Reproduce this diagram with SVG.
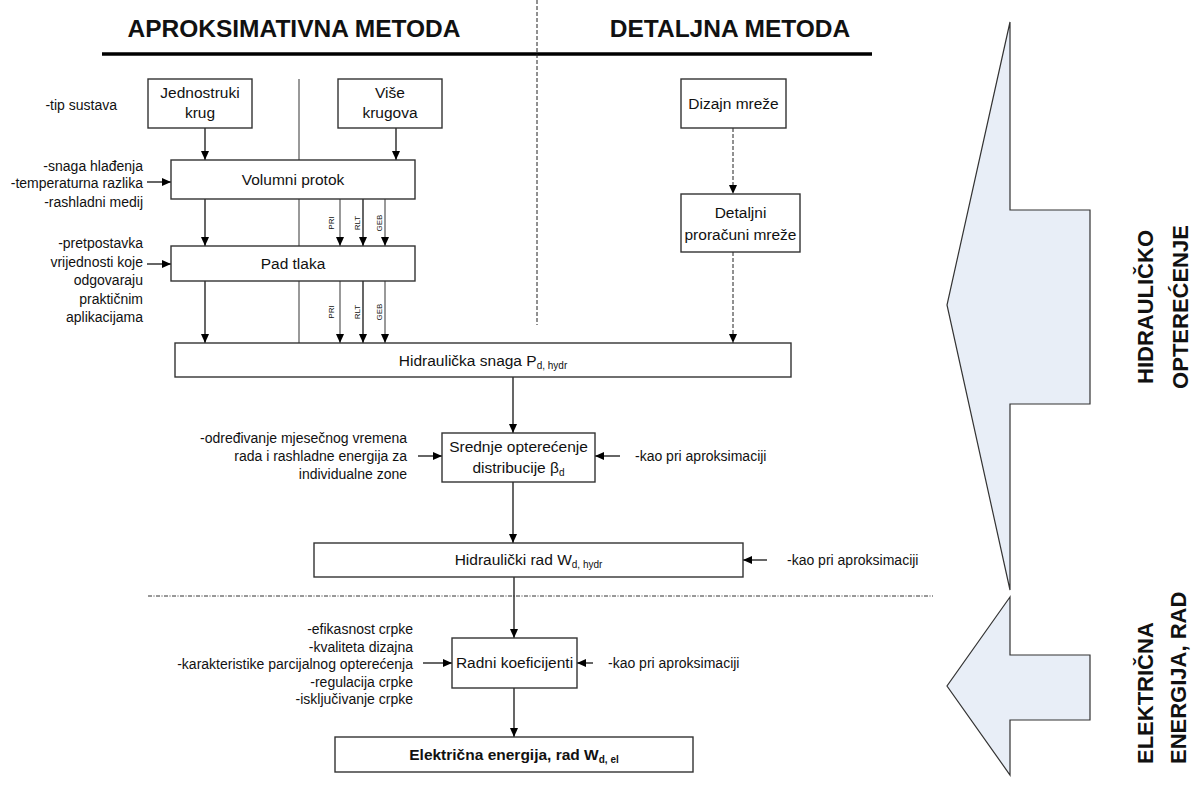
<svg xmlns="http://www.w3.org/2000/svg" width="1194" height="786" viewBox="0 0 1194 786">
  <defs>
    <marker id="ah" markerUnits="userSpaceOnUse" markerWidth="9" markerHeight="8" refX="9" refY="4" orient="auto">
      <path d="M0,0 L9,4 L0,8 z" fill="#000"/>
    </marker>
  </defs>
  <style>
    text { font-family: "Liberation Sans", Arial, sans-serif; fill: #111; }
    .title { font-size: 24.5px; font-weight: bold; text-anchor: middle; }
    .side { font-size: 22px; font-weight: bold; }
    .lbl { font-size: 15.5px; text-anchor: middle; }
    .note { font-size: 14px; text-anchor: end; }
    .noteL { font-size: 14px; text-anchor: start; }
    .tiny { font-size: 8px; text-anchor: middle; }
    .sub { font-size: 10px; }
    .box { fill: #fff; stroke: #333; stroke-width: 1.4; }
    .con { fill: none; stroke: #000; stroke-width: 1.2; marker-end: url(#ah); }
    .cong { fill: none; stroke: #555; stroke-width: 1.2; marker-end: url(#ah); }
    .dash { fill: none; stroke: #222; stroke-width: 1; stroke-dasharray: 4 2; marker-end: url(#ah); }
    .sep { fill: none; stroke: #222; stroke-width: 1; stroke-dasharray: 4 2; }
    .sepdot { fill: none; stroke: #333; stroke-width: 1; stroke-dasharray: 4 1.5 1 1.5; }
    .big { fill: #e8eef7; stroke: #333; stroke-width: 1.2; }
  </style>

  <!-- column headers and separators -->
  <g id="headers">
    <text class="title" x="294" y="37">APROKSIMATIVNA METODA</text>
    <text class="title" x="730" y="37">DETALJNA METODA</text>
    <line x1="102" y1="54" x2="872" y2="54" stroke="#000" stroke-width="3.5"/>
    <line class="sep" x1="537" y1="0" x2="537" y2="325"/>
    <line x1="299" y1="79" x2="299" y2="343" stroke="#555" stroke-width="1.2"/>
    <line class="sepdot" x1="148" y1="596" x2="933" y2="596"/>
  </g>

  <!-- side phase arrows -->
  <g id="phase-hydraulic">
    <polygon class="big" points="1010,22 947,305 1010,590 1010,404 1090,404 1090,210 1010,210"/>
    <text class="side" text-anchor="middle" transform="translate(1153,307) rotate(-90)">HIDRAULIČKO</text>
    <text class="side" text-anchor="middle" transform="translate(1188,307) rotate(-90)">OPTEREĆENJE</text>
  </g>
  <g id="phase-electric">
    <polygon class="big" points="1010,597 947,686 1010,775 1010,720 1090,720 1090,655 1010,655"/>
    <text class="side" text-anchor="start" transform="translate(1153,764) rotate(-90)">ELEKTRIČNA</text>
    <text class="side" text-anchor="start" transform="translate(1186,764) rotate(-90)">ENERGIJA, RAD</text>
  </g>

  <!-- connectors -->
  <g id="connectors">
    <line class="con" x1="205" y1="128" x2="205" y2="160"/>
    <line class="con" x1="396" y1="128" x2="396" y2="160"/>
    <line class="con" x1="147" y1="182" x2="171" y2="182"/>
    <line class="con" x1="205" y1="199" x2="205" y2="246"/>
    <line class="cong" x1="340" y1="199" x2="340" y2="246"/>
    <line class="con" x1="363" y1="199" x2="363" y2="246"/>
    <line class="cong" x1="385" y1="199" x2="385" y2="246"/>
    <line class="con" x1="147" y1="264" x2="171" y2="264"/>
    <line class="con" x1="205" y1="281" x2="205" y2="343"/>
    <line class="cong" x1="340" y1="281" x2="340" y2="343"/>
    <line class="con" x1="363" y1="281" x2="363" y2="343"/>
    <line class="cong" x1="385" y1="281" x2="385" y2="343"/>
    <line class="dash" x1="733" y1="128" x2="733" y2="194"/>
    <line class="dash" x1="733" y1="252" x2="733" y2="343"/>
    <line class="con" x1="513" y1="377" x2="513" y2="433"/>
    <line class="con" x1="418" y1="456" x2="442" y2="456"/>
    <line class="con" x1="620" y1="456" x2="595" y2="456"/>
    <line class="con" x1="513" y1="482" x2="513" y2="543"/>
    <line class="con" x1="767" y1="560" x2="743" y2="560"/>
    <line class="con" x1="514" y1="577" x2="514" y2="638"/>
    <line class="con" x1="423" y1="663" x2="452" y2="663"/>
    <line class="con" x1="593" y1="663" x2="577" y2="663"/>
    <line class="con" x1="514" y1="688" x2="514" y2="737"/>
    <text class="tiny" transform="translate(334,223) rotate(-90)">PRI</text>
    <text class="tiny" transform="translate(360,223) rotate(-90)">RLT</text>
    <text class="tiny" transform="translate(382,223) rotate(-90)">GEB</text>
    <text class="tiny" transform="translate(334,312) rotate(-90)">PRI</text>
    <text class="tiny" transform="translate(360,312) rotate(-90)">RLT</text>
    <text class="tiny" transform="translate(382,312) rotate(-90)">GEB</text>
  </g>

  <!-- input notes -->
  <g id="notes">
    <text class="note" x="117" y="110">-tip sustava</text>
    <text class="note" x="143" y="171">-snaga hlađenja</text>
    <text class="note" x="143" y="188">-temperaturna razlika</text>
    <text class="note" x="143" y="207">-rashladni medij</text>
    <text class="note" x="143" y="248">-pretpostavka</text>
    <text class="note" x="143" y="266.5">vrijednosti koje</text>
    <text class="note" x="143" y="285">odgovaraju</text>
    <text class="note" x="143" y="303.5">praktičnim</text>
    <text class="note" x="143" y="322">aplikacijama</text>
    <text class="note" x="407" y="443">-određivanje mjesečnog vremena</text>
    <text class="note" x="407" y="461">rada i rashladne energija za</text>
    <text class="note" x="407" y="478.5">individualne zone</text>
    <text class="noteL" x="635" y="461">-kao pri aproksimaciji</text>
    <text class="noteL" x="787" y="565">-kao pri aproksimaciji</text>
    <text class="note" x="413" y="634">-efikasnost crpke</text>
    <text class="note" x="413" y="651.5">-kvaliteta dizajna</text>
    <text class="note" x="413" y="669">-karakteristike parcijalnog opterećenja</text>
    <text class="note" x="413" y="686.5">-regulacija crpke</text>
    <text class="note" x="413" y="704">-isključivanje crpke</text>
    <text class="noteL" x="608" y="668">-kao pri aproksimaciji</text>
  </g>

  <!-- nodes -->
  <g id="jednostruki-krug">
    <rect class="box" x="148" y="79" width="104" height="49"/>
    <text class="lbl" x="200" y="98">Jednostruki</text>
    <text class="lbl" x="200" y="118">krug</text>
  </g>
  <g id="vise-krugova">
    <rect class="box" x="338" y="79" width="104" height="49"/>
    <text class="lbl" x="390" y="98">Više</text>
    <text class="lbl" x="390" y="118">krugova</text>
  </g>
  <g id="volumni-protok">
    <rect class="box" x="171" y="160" width="244" height="39"/>
    <text class="lbl" x="293" y="185">Volumni protok</text>
  </g>
  <g id="pad-tlaka">
    <rect class="box" x="171" y="246" width="244" height="35"/>
    <text class="lbl" x="293" y="269">Pad tlaka</text>
  </g>
  <g id="dizajn-mreze">
    <rect class="box" x="681" y="79" width="105" height="49"/>
    <text class="lbl" x="733.5" y="109">Dizajn mreže</text>
  </g>
  <g id="detaljni-proracuni">
    <rect class="box" x="681" y="194" width="119" height="58"/>
    <text class="lbl" x="740.5" y="218">Detaljni</text>
    <text class="lbl" x="740.5" y="240">proračuni mreže</text>
  </g>
  <g id="hidraulicka-snaga">
    <rect class="box" x="175" y="343" width="616" height="34"/>
    <text class="lbl" x="483" y="366">Hidraulička snaga P<tspan class="sub" dy="3">d, hydr</tspan></text>
  </g>
  <g id="srednje-opterecenje">
    <rect class="box" x="442" y="433" width="153" height="49"/>
    <text class="lbl" x="518.5" y="452">Srednje opterećenje</text>
    <text class="lbl" x="518.5" y="473">distribucije β<tspan class="sub" dy="3">d</tspan></text>
  </g>
  <g id="hidraulicki-rad">
    <rect class="box" x="314" y="543" width="429" height="34"/>
    <text class="lbl" x="528.5" y="565">Hidraulički rad W<tspan class="sub" dy="3">d, hydr</tspan></text>
  </g>
  <g id="radni-koeficijenti">
    <rect class="box" x="452" y="638" width="125" height="50"/>
    <text class="lbl" x="514.5" y="668">Radni koeficijenti</text>
  </g>
  <g id="elektricna-energija">
    <rect class="box" x="335" y="737" width="358" height="35"/>
    <text class="lbl" x="514" y="760" font-size="13.5" font-weight="bold">Električna energija, rad W<tspan class="sub" dy="3" font-size="9.5">d, el</tspan></text>
  </g>
</svg>
